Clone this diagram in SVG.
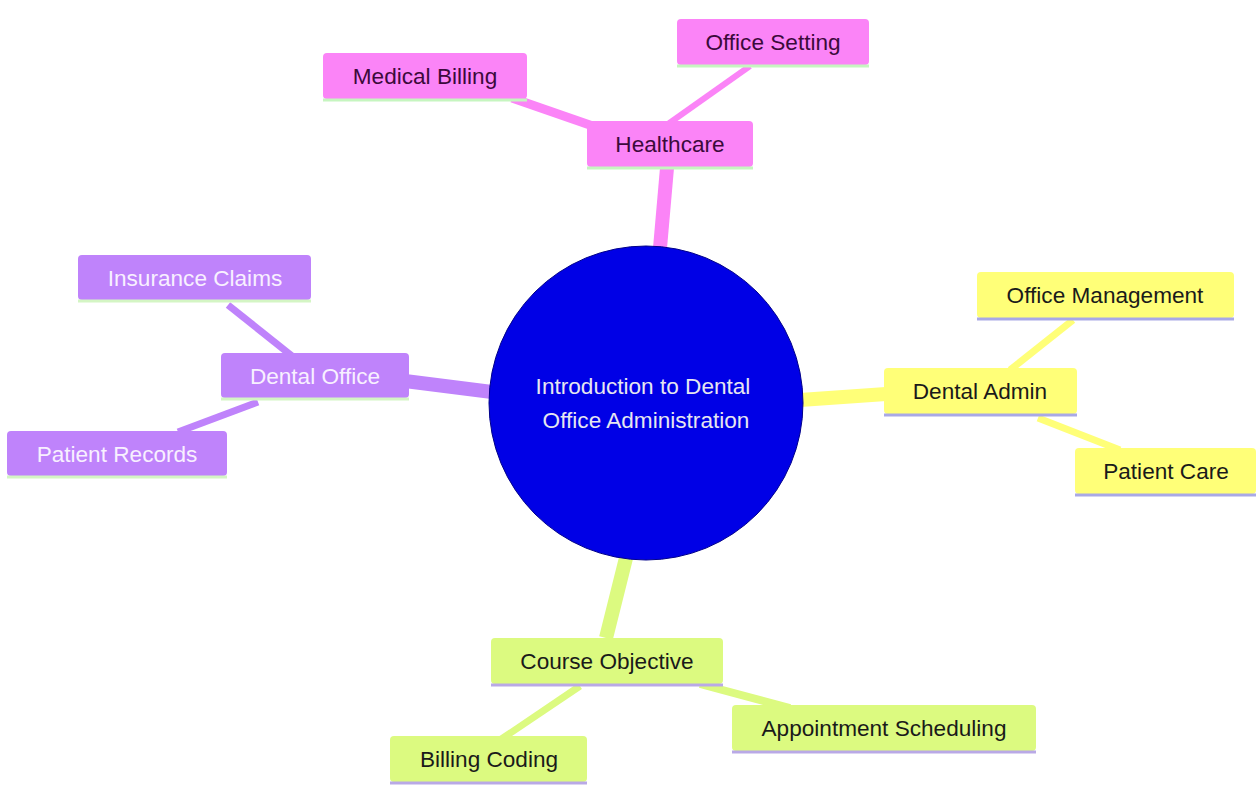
<svg xmlns="http://www.w3.org/2000/svg" width="1256" height="785" viewBox="0 0 1256 785">
<style>
text{font-family:"Liberation Sans",Arial,sans-serif;font-size:22.6px;text-anchor:middle;dominant-baseline:central}
.pk rect{fill:#fb84f7}.pk text{fill:#3b0a3b}.pk line{stroke:#c6f5c0}
.pu rect{fill:#bf83fb}.pu text{fill:#f8f0ff}.pu line{stroke:#d4f5c4}
.ye rect{fill:#ffff78}.ye text{fill:#1a1a1a}.ye line{stroke:#a9a9e6}
.gr rect{fill:#dcfa80}.gr text{fill:#1a1a1a}.gr line{stroke:#b9a9e6}
.nl{stroke-width:3}
.e{fill:none;stroke-linecap:butt}
</style>
<rect width="1256" height="785" fill="#ffffff"/>
<g id="connectors">
<line class="e" x1="660" y1="248" x2="667" y2="168" stroke="#fb84f7" stroke-width="14"/>
<line class="e" x1="610" y1="132" x2="512" y2="98" stroke="#fb84f7" stroke-width="9"/>
<line class="e" x1="668" y1="124" x2="750" y2="66" stroke="#fb84f7" stroke-width="6"/>
<line class="e" x1="492" y1="392" x2="405" y2="381" stroke="#bf83fb" stroke-width="14"/>
<line class="e" x1="292" y1="356" x2="228" y2="305" stroke="#bf83fb" stroke-width="7"/>
<line class="e" x1="258" y1="402" x2="178" y2="432" stroke="#bf83fb" stroke-width="7"/>
<line class="e" x1="800" y1="400" x2="886" y2="394" stroke="#ffff78" stroke-width="14"/>
<line class="e" x1="1010" y1="370" x2="1073" y2="320" stroke="#ffff78" stroke-width="7"/>
<line class="e" x1="1038" y1="418" x2="1120" y2="450" stroke="#ffff78" stroke-width="7"/>
<line class="e" x1="626" y1="558" x2="606" y2="638" stroke="#dcfa80" stroke-width="14"/>
<line class="e" x1="580" y1="686" x2="500" y2="740" stroke="#dcfa80" stroke-width="7"/>
<line class="e" x1="700" y1="684" x2="790" y2="708" stroke="#dcfa80" stroke-width="8"/>
</g>
<g id="root">
<circle cx="646" cy="403" r="157" fill="#0000e6" stroke="#00008a" stroke-width="1"/>
<text x="643" y="386" fill="#e6e6f0">Introduction to Dental</text>
<text x="646" y="420" fill="#e6e6f0">Office Administration</text>
</g>
<g id="healthcare" class="pk"><rect x="587" y="121" width="166" height="46" rx="4"/><line class="nl" x1="587" y1="168" x2="753" y2="168"/><text x="670" y="144">Healthcare</text></g>
<g id="medical-billing" class="pk"><rect x="323" y="53" width="204" height="46" rx="4"/><line class="nl" x1="323" y1="100" x2="527" y2="100"/><text x="425" y="76">Medical Billing</text></g>
<g id="office-setting" class="pk"><rect x="677" y="19" width="192" height="46" rx="4"/><line class="nl" x1="677" y1="66" x2="869" y2="66"/><text x="773" y="42">Office Setting</text></g>
<g id="dental-office" class="pu"><rect x="221" y="353" width="188" height="45" rx="4"/><line class="nl" x1="221" y1="399" x2="409" y2="399"/><text x="315" y="376">Dental Office</text></g>
<g id="insurance-claims" class="pu"><rect x="78" y="255" width="233" height="45" rx="4"/><line class="nl" x1="78" y1="301" x2="311" y2="301"/><text x="195" y="278">Insurance Claims</text></g>
<g id="patient-records" class="pu"><rect x="7" y="431" width="220" height="45" rx="4"/><line class="nl" x1="7" y1="477" x2="227" y2="477"/><text x="117" y="454">Patient Records</text></g>
<g id="dental-admin" class="ye"><rect x="884" y="368" width="193" height="46" rx="4"/><line class="nl" x1="884" y1="415" x2="1077" y2="415"/><text x="980" y="391">Dental Admin</text></g>
<g id="office-management" class="ye"><rect x="977" y="272" width="257" height="46" rx="4"/><line class="nl" x1="977" y1="319" x2="1234" y2="319"/><text x="1105" y="295">Office Management</text></g>
<g id="patient-care" class="ye"><rect x="1075" y="448" width="181" height="46" rx="4"/><line class="nl" x1="1075" y1="495" x2="1256" y2="495"/><text x="1166" y="471">Patient Care</text></g>
<g id="course-objective" class="gr"><rect x="491" y="638" width="232" height="46" rx="4"/><line class="nl" x1="491" y1="685" x2="723" y2="685"/><text x="607" y="661">Course Objective</text></g>
<g id="appointment-scheduling" class="gr"><rect x="732" y="705" width="304" height="46" rx="4"/><line class="nl" x1="732" y1="752" x2="1036" y2="752"/><text x="884" y="728">Appointment Scheduling</text></g>
<g id="billing-coding" class="gr"><rect x="390" y="736" width="197" height="46" rx="4"/><line class="nl" x1="390" y1="783" x2="587" y2="783"/><text x="489" y="759">Billing Coding</text></g>
</svg>
